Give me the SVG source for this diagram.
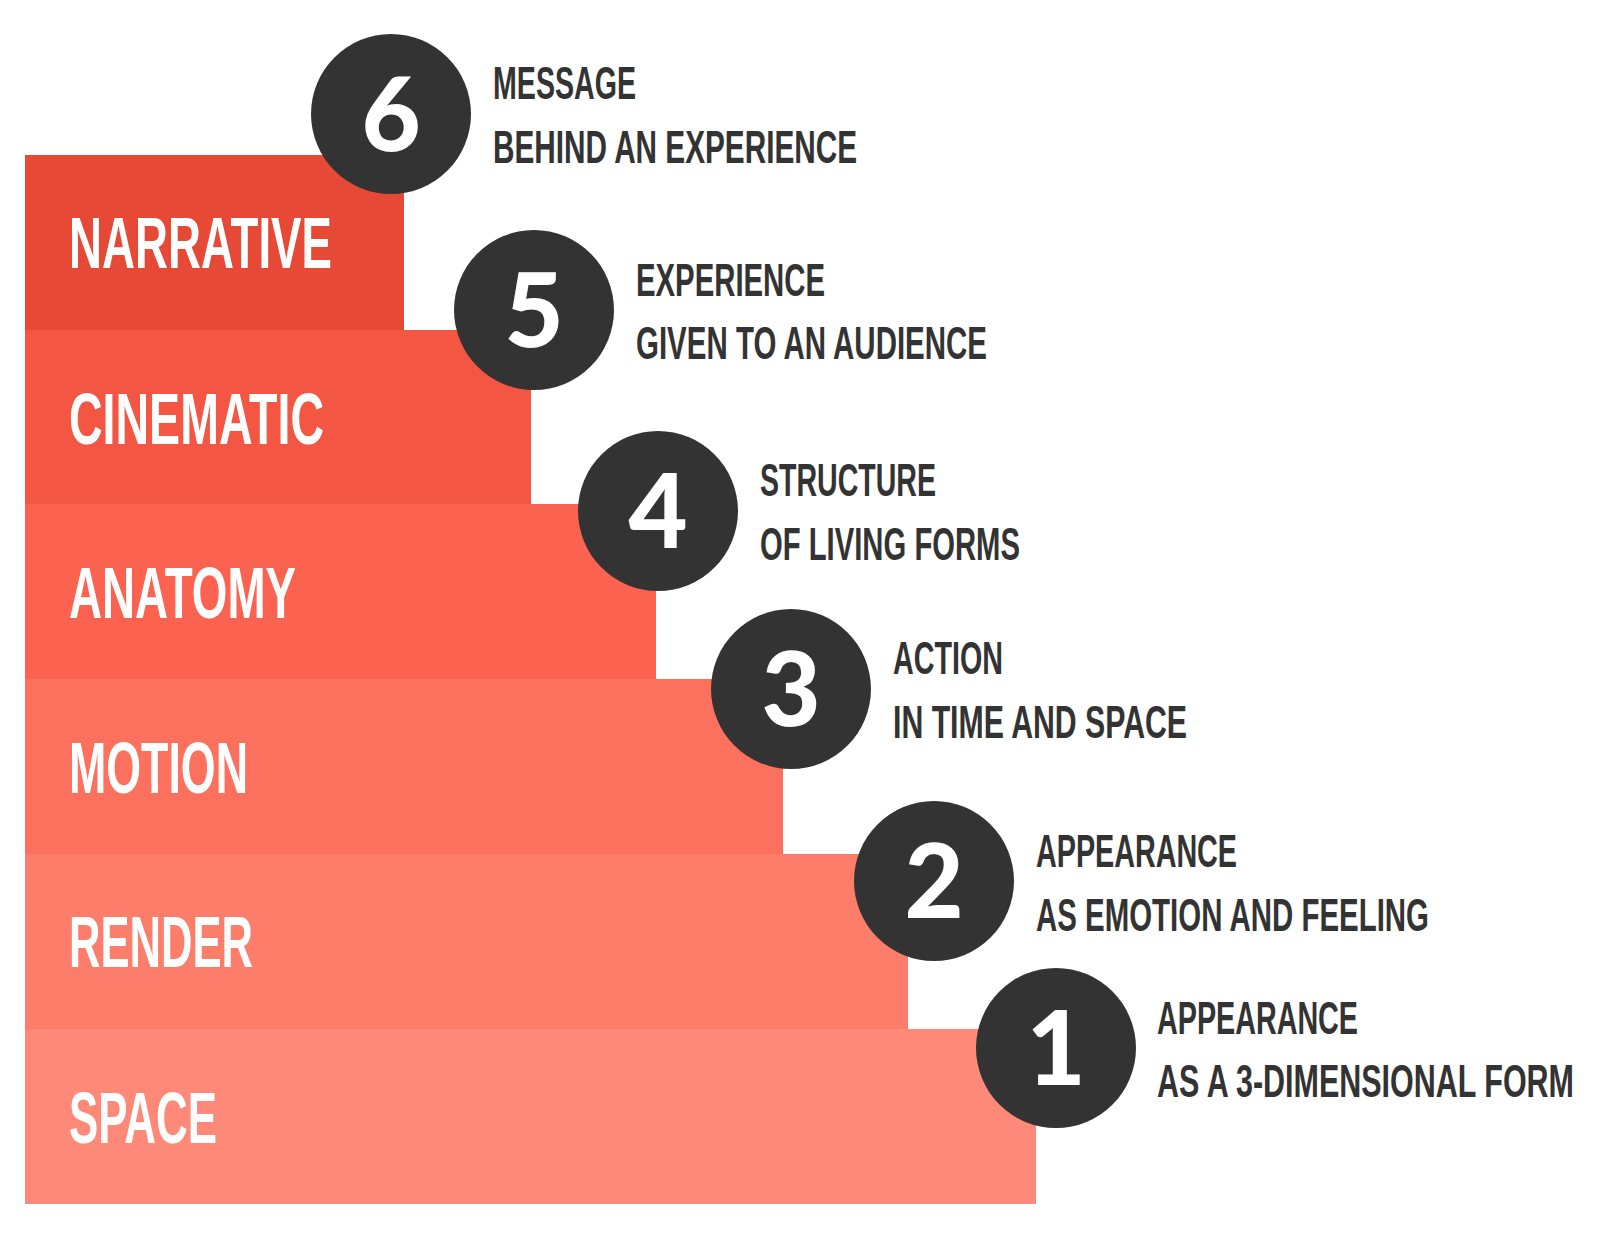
<svg xmlns="http://www.w3.org/2000/svg" width="1600" height="1245" viewBox="0 0 1600 1245">
<style>
.lbl{font-family:"Liberation Sans",Arial,sans-serif;font-weight:bold;font-size:72px;fill:#ffffff;}
.num{font-family:Lato,"Liberation Sans",Arial,sans-serif;font-weight:900;font-size:102px;fill:#ffffff;text-anchor:middle;}
.desc{font-family:"Liberation Sans",Arial,sans-serif;font-weight:bold;font-size:47px;fill:#333333;}
.dot{fill:#333333;}
</style>
<rect width="1600" height="1245" fill="#ffffff"/>
<g id="steps">
<g id="step-space"><rect x="25" y="1029" width="1011" height="175" fill="#FE8978"/><text class="lbl" x="69" y="1143" textLength="148" lengthAdjust="spacingAndGlyphs">SPACE</text></g>
<g id="step-render"><rect x="25" y="854" width="883" height="175" fill="#FD7D6B"/><text class="lbl" x="69" y="967" textLength="184" lengthAdjust="spacingAndGlyphs">RENDER</text></g>
<g id="step-motion"><rect x="25" y="679" width="758" height="175" fill="#FC705E"/><text class="lbl" x="69" y="793" textLength="179" lengthAdjust="spacingAndGlyphs">MOTION</text></g>
<g id="step-anatomy"><rect x="25" y="504" width="631" height="175" fill="#FB6350"/><text class="lbl" x="69" y="618" textLength="227" lengthAdjust="spacingAndGlyphs">ANATOMY</text></g>
<g id="step-cinematic"><rect x="25" y="330" width="506" height="174" fill="#F35642"/><text class="lbl" x="69" y="444" textLength="255" lengthAdjust="spacingAndGlyphs">CINEMATIC</text></g>
<g id="step-narrative"><rect x="25" y="155" width="379" height="175" fill="#E64A36"/><text class="lbl" x="69" y="268" textLength="263" lengthAdjust="spacingAndGlyphs">NARRATIVE</text></g>
</g>
<g id="connectors"/>
<g id="badge-6"><circle class="dot" cx="391" cy="114" r="80"/><text class="num" x="391" y="151">6</text>
<text class="desc" x="493" y="99" textLength="143" lengthAdjust="spacingAndGlyphs">MESSAGE</text>
<text class="desc" x="493" y="163" textLength="364" lengthAdjust="spacingAndGlyphs">BEHIND AN EXPERIENCE</text></g>
<g id="badge-5"><circle class="dot" cx="534" cy="310" r="80"/><text class="num" x="534" y="347">5</text>
<text class="desc" x="636" y="296" textLength="189" lengthAdjust="spacingAndGlyphs">EXPERIENCE</text>
<text class="desc" x="636" y="359" textLength="351" lengthAdjust="spacingAndGlyphs">GIVEN TO AN AUDIENCE</text></g>
<g id="badge-4"><circle class="dot" cx="658" cy="511" r="80"/><text class="num" x="658" y="548">4</text>
<text class="desc" x="760" y="496" textLength="176" lengthAdjust="spacingAndGlyphs">STRUCTURE</text>
<text class="desc" x="760" y="560" textLength="260" lengthAdjust="spacingAndGlyphs">OF LIVING FORMS</text></g>
<g id="badge-3"><circle class="dot" cx="791" cy="689" r="80"/><text class="num" x="791" y="726">3</text>
<text class="desc" x="893" y="674" textLength="110" lengthAdjust="spacingAndGlyphs">ACTION</text>
<text class="desc" x="893" y="738" textLength="294" lengthAdjust="spacingAndGlyphs">IN TIME AND SPACE</text></g>
<g id="badge-2"><circle class="dot" cx="934" cy="881" r="80"/><text class="num" x="934" y="918">2</text>
<text class="desc" x="1036" y="867" textLength="201" lengthAdjust="spacingAndGlyphs">APPEARANCE</text>
<text class="desc" x="1036" y="931" textLength="393" lengthAdjust="spacingAndGlyphs">AS EMOTION AND FEELING</text></g>
<g id="badge-1"><circle class="dot" cx="1056" cy="1048" r="80"/><text class="num" x="1056" y="1085">1</text>
<text class="desc" x="1157" y="1034" textLength="201" lengthAdjust="spacingAndGlyphs">APPEARANCE</text>
<text class="desc" x="1157" y="1097" textLength="417" lengthAdjust="spacingAndGlyphs">AS A 3-DIMENSIONAL FORM</text></g>
</svg>
